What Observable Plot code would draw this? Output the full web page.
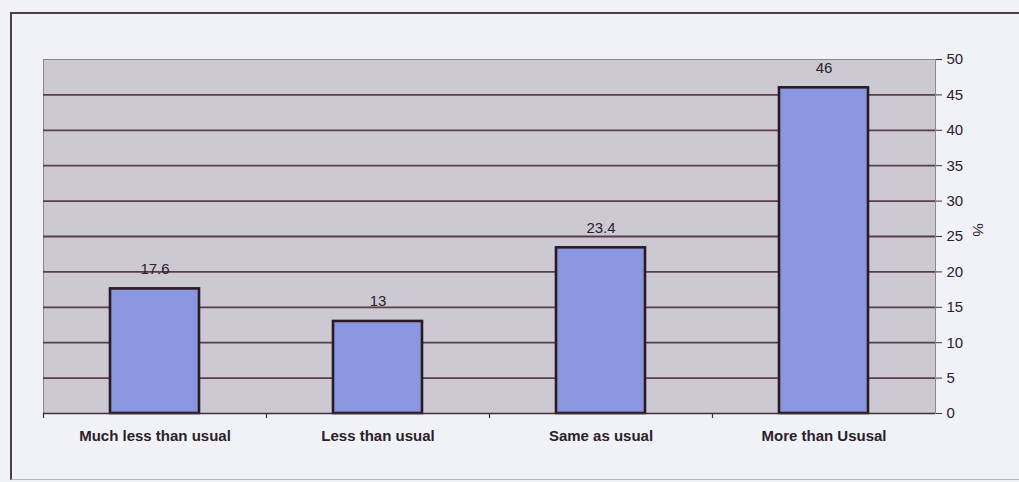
<!DOCTYPE html>
<html>
<head>
<meta charset="utf-8">
<script src="https://cdn.jsdelivr.net/npm/d3@7"></script>
<script src="https://cdn.jsdelivr.net/npm/@observablehq/plot@0.6"></script>
<style>
  html, body { margin: 0; padding: 0; background: #f1f2f8; }
  #wrap { position: relative; width: 1019px; height: 482px; overflow: hidden; }
  #border {
    position: absolute; left: 10px; top: 12px; width: 1030px; height: 468px;
    border-left: 2px solid #4e3c4c; border-top: 2px solid #4e3c4c;
    border-bottom: 1px solid #b9b6c2; box-sizing: border-box;
  }
  #wrap svg { position: absolute; left: 0; top: 0; }
</style>
</head>
<body>
<div id="wrap"><div id="border"></div></div>
<script>
// Survey responses (% of respondents)
const categories = ["Much less than usual", "Less than usual", "Same as usual", "More than Ususal"];
const percents = [17.6, 13, 23.4, 46];
const labels = ["17.6", "13", "23.4", "46"];
const yTicks = [0, 5, 10, 15, 20, 25, 30, 35, 40, 45, 50];

const data = categories.map((c, i) => ({category: c, value: percents[i], label: labels[i]}));

const W = 1019, H = 482;
const margin = {top: 59, right: 84, bottom: 69, left: 43};
const step = (W - margin.left - margin.right) / categories.length;

const ink = "#2b2129";
const gridColor = "#5b3c4c";

const chart = Plot.plot({
  width: W,
  height: H,
  marginTop: margin.top,
  marginRight: margin.right,
  marginBottom: margin.bottom,
  marginLeft: margin.left,
  style: {background: "transparent", fontFamily: "'Liberation Sans', Arial, sans-serif", color: ink},
  x: {domain: categories, paddingInner: 0.6, paddingOuter: 0.3, label: null},
  y: {domain: [0, 50], label: null},
  marks: [
    // plot area
    Plot.frame({fill: "#cdc9d3", stroke: "#8d8494", strokeWidth: 1}),
    // horizontal gridlines
    Plot.ruleY(yTicks.filter(t => t > 0 && t < 50), {stroke: gridColor, strokeWidth: 1.8}),
    // bars
    Plot.barY(data, {x: "category", y: "value", fill: "#8b96e0", stroke: "#2a1a22", strokeWidth: 2.6}),
    // value labels
    Plot.text(data, {x: "category", y: "value", text: "label", dy: -20, fontSize: 15, fill: ink}),
    // baseline and right axis line
    Plot.ruleY([0], {stroke: "#3f2f3b", strokeWidth: 1.6}),
    Plot.ruleX([0], {frameAnchor: "right", y1: 0, y2: 50, stroke: "#3f2f3b", strokeWidth: 1.6}),
    // category separator ticks below the baseline
    Plot.ruleX(categories, {x: d => d, dx: -step / 2, y1: 0, y2: 0, insetBottom: -5, stroke: "#3f2f3b", strokeWidth: 1.2}),
    // right-hand value axis
    Plot.axisY(yTicks, {anchor: "right", tickSize: 6, tickPadding: 5, fontSize: 15, stroke: "#3f2f3b", fill: ink, label: null}),
    // category labels
    Plot.axisX({tickSize: 0, tickPadding: 17, fontSize: 15, fill: ink, fontWeight: 600, label: null}),
    // unit label
    Plot.text(["%"], {frameAnchor: "right", y: 25, dx: 42, rotate: 90, fontSize: 15, fill: ink})
  ]
});

document.getElementById("wrap").appendChild(chart);
</script>
</body>
</html>
